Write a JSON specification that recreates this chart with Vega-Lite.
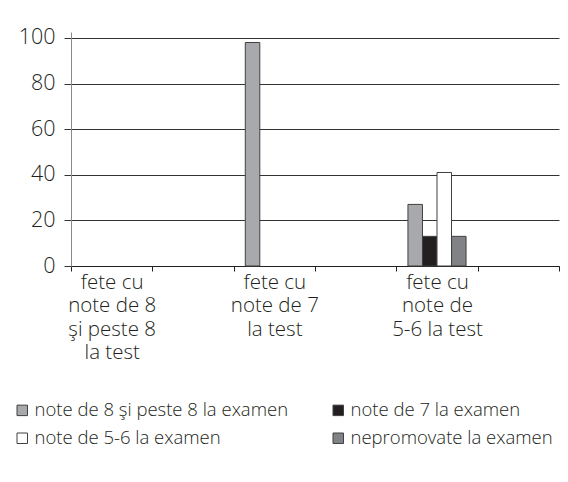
{
  "$schema": "https://vega.github.io/schema/vega-lite/v6.json",
  "autosize": {"type": "none"},
  "width": 488,
  "height": 234,
  "padding": {"left": 71, "top": 32, "right": 9, "bottom": 216},
  "background": "white",
  "config": {
    "font": "Open Sans",
    "view": {"stroke": null},
    "axis": {"labelColor": "#231f20", "labelFont": "Open Sans", "labelFontWeight": 300},
    "legend": {"labelFont": "Open Sans", "labelFontWeight": 300}
  },
  "data": {
    "values": [
      {"cat": "fete cu|note de 8|şi peste 8|la test", "serie": "note de 8 şi peste 8 la examen", "procent": 0},
      {"cat": "fete cu|note de 8|şi peste 8|la test", "serie": "note de 7 la examen", "procent": 0},
      {"cat": "fete cu|note de 8|şi peste 8|la test", "serie": "note de 5-6 la examen", "procent": 0},
      {"cat": "fete cu|note de 8|şi peste 8|la test", "serie": "nepromovate la examen", "procent": 0},
      {"cat": "fete cu|note de 7|la test", "serie": "note de 8 şi peste 8 la examen", "procent": 98},
      {"cat": "fete cu|note de 7|la test", "serie": "note de 7 la examen", "procent": 0},
      {"cat": "fete cu|note de 7|la test", "serie": "note de 5-6 la examen", "procent": 0},
      {"cat": "fete cu|note de 7|la test", "serie": "nepromovate la examen", "procent": 0},
      {"cat": "fete cu|note de|5-6 la test", "serie": "note de 8 şi peste 8 la examen", "procent": 27},
      {"cat": "fete cu|note de|5-6 la test", "serie": "note de 7 la examen", "procent": 13},
      {"cat": "fete cu|note de|5-6 la test", "serie": "note de 5-6 la examen", "procent": 41},
      {"cat": "fete cu|note de|5-6 la test", "serie": "nepromovate la examen", "procent": 13}
    ]
  },
  "mark": {"type": "bar", "stroke": "#404040", "strokeWidth": 1},
  "encoding": {
    "x": {
      "field": "cat",
      "type": "nominal",
      "scale": {
        "domain": ["fete cu|note de 8|şi peste 8|la test", "gol1", "fete cu|note de 7|la test", "gol2", "fete cu|note de|5-6 la test", "gol3"],
        "paddingInner": 0,
        "paddingOuter": 0
      },
      "axis": {
        "title": null,
        "labelAngle": 0,
        "labelExpr": "indexof(datum.label, '|') >= 0 ? split(datum.label, '|') : ''",
        "labelFontSize": 20.5,
        "labelLineHeight": 23.5,
        "labelPadding": 1,
        "labelBaseline": "top",
        "tickBand": "extent",
        "tickSize": 5,
        "tickColor": "#231f20",
        "domainColor": "#231f20",
        "labelAlign": "center"
      }
    },
    "xOffset": {
      "field": "serie",
      "type": "nominal",
      "scale": {
        "domain": ["note de 8 şi peste 8 la examen", "note de 7 la examen", "note de 5-6 la examen", "nepromovate la examen"],
        "paddingInner": 0,
        "paddingOuter": 0.8
      }
    },
    "y": {
      "field": "procent",
      "type": "quantitative",
      "scale": {"domain": [0, 102.6], "nice": false},
      "axis": {
        "title": null,
        "values": [0, 20, 40, 60, 80, 100],
        "labelFontSize": 21.5,
        "labelPadding": 9,
        "tickSize": 7,
        "tickColor": "#333333",
        "domainColor": "#8a8a8a",
        "grid": true,
        "gridColor": "#333333",
        "gridOpacity": 1
      }
    },
    "strokeOpacity": {
      "condition": {"test": "datum.procent === 0", "value": 0},
      "value": 1
    },
    "fill": {
      "field": "serie",
      "type": "nominal",
      "scale": {
        "domain": ["note de 8 şi peste 8 la examen", "note de 5-6 la examen", "note de 7 la examen", "nepromovate la examen"],
        "range": ["#a7a9ac", "#ffffff", "#231f20", "#808285"]
      },
      "legend": {
        "title": null,
        "orient": "none",
        "legendX": -58,
        "legendY": 369,
        "columns": 2,
        "columnPadding": 40,
        "rowPadding": 9,
        "padding": 0,
        "symbolType": "square",
        "symbolSize": 110,
        "symbolStrokeColor": "#404040",
        "symbolStrokeWidth": 1,
        "symbolOffset": 0,
        "labelOffset": 3,
        "labelFontSize": 18.5,
        "labelColor": "#231f20",
        "labelLimit": 400
      }
    }
  }
}
